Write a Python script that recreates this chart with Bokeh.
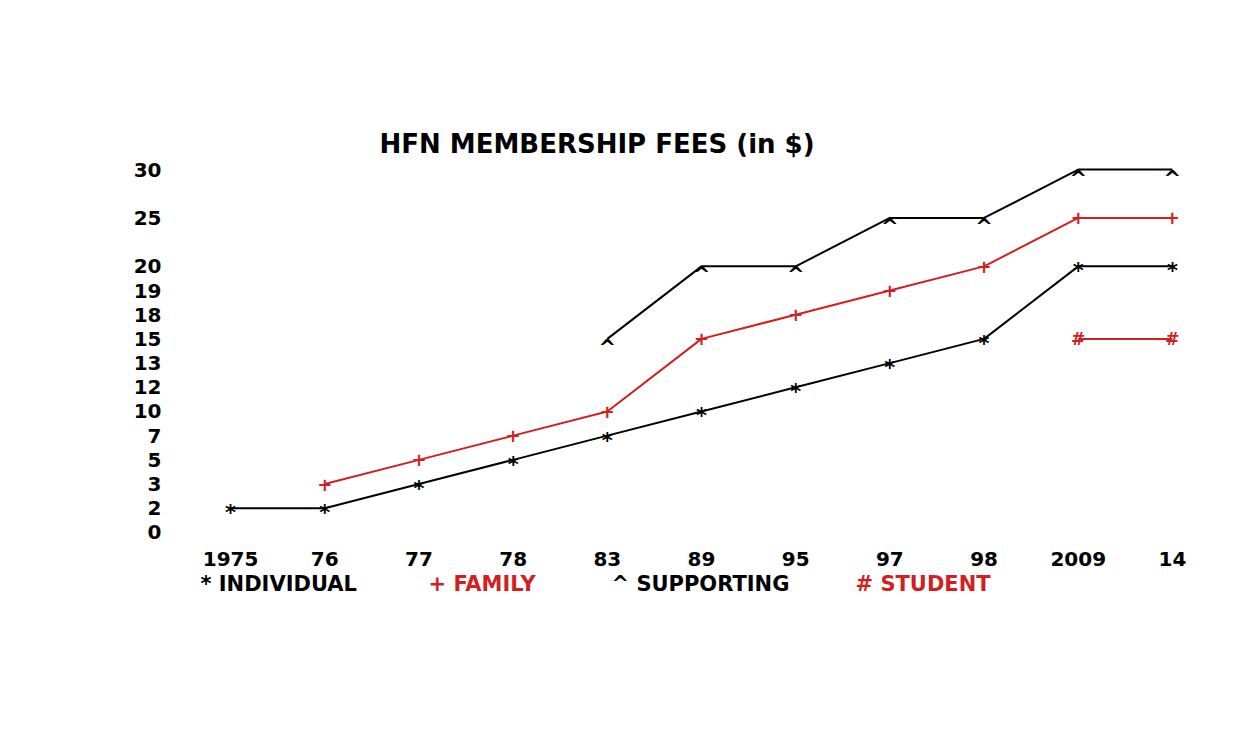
from bokeh.plotting import figure
from bokeh.models import FactorRange, ColumnDataSource, Range1d
from bokeh.layouts import column
from bokeh.core.properties import value
from bokeh.embed import file_html
from bokeh.resources import INLINE

# ---- data ----
years = ["1975", "76", "77", "78", "83", "89", "95", "97", "98", "2009", "14"]
y_labels = ["0", "2", "3", "5", "7", "10", "12", "13", "15", "18", "19", "20", "25", "30"]
individual = [2, 2, 3, 5, 7, 10, 12, 13, 15, 20, 20]
family = [None, 3, 5, 7, 10, 15, 18, 19, 20, 25, 25]
supporting = [None, None, None, None, 15, 20, 20, 25, 25, 30, 30]
student = [None, None, None, None, None, None, None, None, None, 15, 15]
legend_texts = ["* INDIVIDUAL", "+ FAMILY", "^ SUPPORTING", "# STUDENT"]
title_text = "HFN MEMBERSHIP FEES (in $)"

FONT = "DejaVu Sans"
RED = "#d21f1f"

# empty slot after these labels on the (ordinal) value axis
gap_after = {"20": " ", "25": "  "}
y_factors = []
for lab in y_labels:
    y_factors.append(lab)
    if lab in gap_after:
        y_factors.append(gap_after[lab])

W, H = 1225, 570
FRAME_L, FRAME_R = 183, 1219
p = figure(width=W, height=H,
           x_range=FactorRange(factors=years, range_padding=0),
           y_range=FactorRange(factors=y_factors, range_padding=0),
           output_backend="svg", toolbar_location=None,
           min_border_left=FRAME_L, min_border_right=W - FRAME_R,
           min_border_top=157, min_border_bottom=H - 544)

p.title.text = title_text
p.title.text_font = FONT
p.title.text_font_size = "26px"
p.title.text_font_style = "bold"
p.title.align = "left"
p.title.offset = 196
p.title.standoff = -2
p.title.text_color = "black"

p.grid.visible = False
p.outline_line_color = None
p.background_fill_color = "white"
p.border_fill_color = "white"

for ax in (p.xaxis[0], p.yaxis[0]):
    ax.axis_line_color = None
    ax.major_tick_line_color = None
    ax.minor_tick_line_color = None
    ax.major_label_text_font = FONT
    ax.major_label_text_font_style = "bold"
    ax.major_label_text_font_size = "20px"
    ax.major_label_text_color = "black"
p.xaxis.major_label_standoff = 1
p.yaxis.major_label_standoff = 16


def add_series(vals, color, marker, size, dy):
    xs = [yr for yr, v in zip(years, vals) if v is not None]
    ys = [str(v) for v in vals if v is not None]
    src = ColumnDataSource(dict(x=xs, y=ys))
    p.line("x", "y", source=src, line_color=color, line_width=2)
    p.text("x", "y", text=value(marker), source=src, text_color=color,
           text_align="center", text_baseline="middle",
           text_font=value(FONT), text_font_style="bold",
           text_font_size=size, y_offset=dy)


add_series(individual, "black", "*", "21px", 5)
add_series(family, RED, "+", "18px", 0)
add_series(supporting, "black", "^", "21px", 9)
add_series(student, RED, "#", "17px", 0)

# ---- legend row (separate strip below the chart; its frame is aligned with the chart's) ----
LH = 60
leg = figure(width=W, height=LH, x_range=Range1d(FRAME_L, FRAME_R), y_range=Range1d(H + LH, H),
             output_backend="svg", toolbar_location=None, min_border=0,
             min_border_left=FRAME_L, min_border_right=W - FRAME_R)
leg.axis.visible = False
leg.grid.visible = False
leg.outline_line_color = None
leg.background_fill_color = "white"
leg.border_fill_color = "white"
legend_x = [200, 428, 611, 855]
legend_colors = ["black", RED, "black", RED]
leg_src = ColumnDataSource(dict(x=legend_x, y=[583] * 4,
                                t=legend_texts, c=legend_colors))
leg.text("x", "y", text="t", text_color="c", source=leg_src,
         text_font=value(FONT), text_font_style="bold",
         text_font_size="21px", text_baseline="middle", text_align="left")

layout = column(p, leg, spacing=0)
open("out.html", "w").write(file_html(layout, INLINE))
